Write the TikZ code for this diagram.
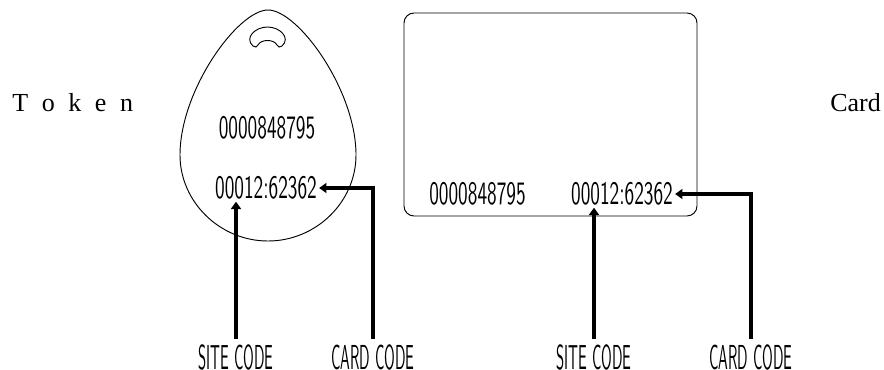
\documentclass[tikz,border=0pt]{standalone}
\usepackage{fontspec}
\newfontfamily\timesfont{Liberation Serif}
\newfontfamily\digfont[FakeStretch=0.59]{lmsans10-regular.otf}
\newfontfamily\labfont[FakeStretch=0.42]{lmsans10-regular.otf}
\usetikzlibrary{arrows.meta,calc}
\begin{document}
\begin{tikzpicture}[x=0.75pt,y=0.75pt,
  outline/.style={line width=0.7pt, draw=black},
  codetext/.style={font=\digfont\fontsize{24.5pt}{25pt}\selectfont, inner sep=1.5pt},
  labeltext/.style={font=\labfont\fontsize{26pt}{26pt}\selectfont, inner sep=0pt},
  pointer/.style={line width=2.8pt, shorten <=3.75pt, -{Triangle[length=5.5pt,width=7.5pt]}},
  caption/.style={font=\timesfont\fontsize{19.5pt}{20pt}\selectfont, inner sep=0pt, anchor=base west}]
\useasboundingbox (0,0) rectangle (884,-370);

% captions
\node[caption] (tokencap) at (12,-112) {T\kern10.2pt o\kern10.2pt k\kern10.2pt e\kern10.2pt n};
\node[caption] (cardcap) at (830,-112) {Card};

% token outline
\draw[outline] (268,-10) .. controls (238,-10) and (180,-90) .. (180,-155)
  .. controls (180,-202) and (220,-241) .. (268,-241)
  .. controls (316,-241) and (356,-202) .. (356,-155)
  .. controls (356,-90) and (298,-10) .. (268,-10) -- cycle;
% token hole
\draw[outline] (253,-46) .. controls (244,-38) and (255,-27) .. (267.5,-27)
  .. controls (280,-27) and (291,-38) .. (282,-46)
  .. controls (280,-48) and (278,-47) .. (277,-45)
  .. controls (274,-39) and (261,-39) .. (258,-45)
  .. controls (257,-47) and (255,-48) .. (253,-46) -- cycle;

\node[codetext] (tnum) at (267,-127.5) {0000848795};
\node[codetext] (tcode) at (266,-188) {00012:62362};
\node[labeltext] (tsite) at (236,-357) {SITE CODE};
\node[labeltext] (tcard) at (373,-357) {CARD CODE};
\draw[pointer] (tsite.north) -- (tsite.north |- tcode.south);
\draw[pointer] (tcard.north) |- (tcode.east);

% card
\draw[outline, rounded corners=7.5pt] (404,-13) rectangle (697,-216);
\node[codetext] (cnum) at (477.5,-194) {0000848795};
\node[codetext] (ccode) at (622,-194) {00012:62362};
\node[labeltext] (csite) at (594,-357) {SITE CODE};
\node[labeltext] (ccard) at (751,-357) {CARD CODE};
\draw[pointer] (csite.north) -- (csite.north |- ccode.south);
\draw[pointer] (ccard.north) |- (ccode.east);
\end{tikzpicture}
\end{document}
